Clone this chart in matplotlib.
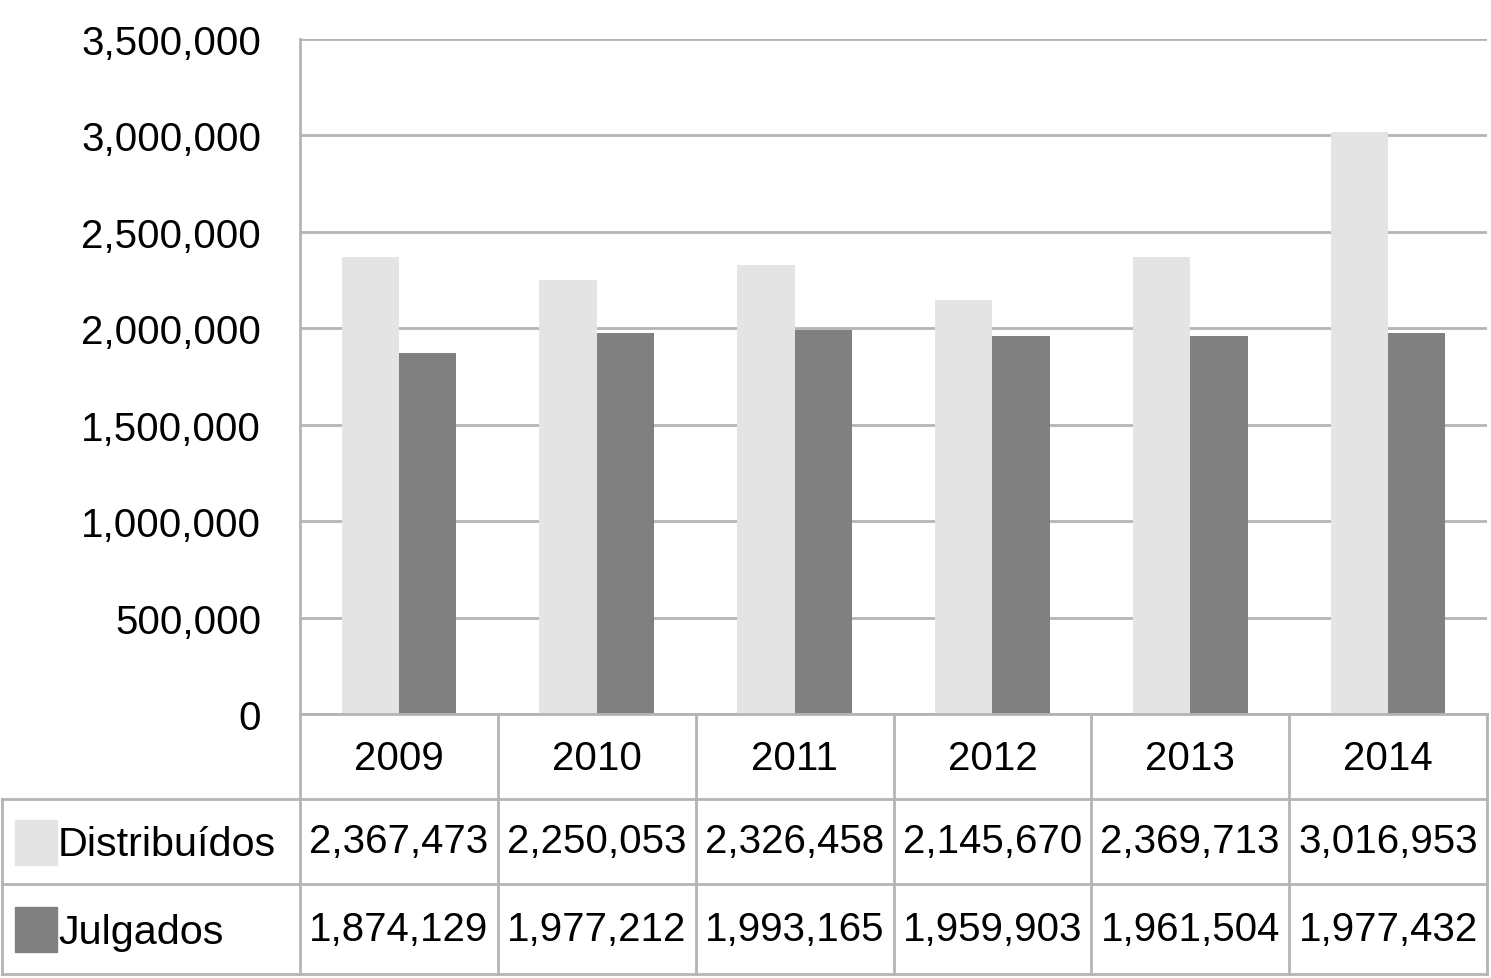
import matplotlib
matplotlib.use("Agg")
import matplotlib.pyplot as plt
import numpy as np

years = ["2009", "2010", "2011", "2012", "2013", "2014"]
distribuidos = [2367473, 2250053, 2326458, 2145670, 2369713, 3016953]
julgados = [1874129, 1977212, 1993165, 1959903, 1961504, 1977432]
series_names = ["Distribuídos", "Julgados"]
colors = ["#e4e4e4", "#808080"]
yticks = [0, 500000, 1000000, 1500000, 2000000, 2500000, 3000000, 3500000]

plt.rcParams["font.family"] = ["Liberation Sans", "DejaVu Sans"]
FS = 29
GRID = "#b4b4b4"

W, H = 1491, 979
fig = plt.figure(figsize=(W / 100, H / 100), dpi=100)

# plot area in pixels
left, right, top, bottom = 300, 1487, 40, 715
ax = fig.add_axes([left / W, (H - bottom) / H, (right - left) / W, (bottom - top) / H])

x = np.arange(len(years))
width = 0.29
ax.bar(x - width / 2, distribuidos, width, color=colors[0], zorder=3)
ax.bar(x + width / 2, julgados, width, color=colors[1], zorder=3)

ax.set_xlim(-0.5, len(years) - 0.5)
ax.set_ylim(0, 3500000)
ax.set_yticks(yticks, labels=[f"{v:,}" for v in yticks])
ax.set_xticks([])
ax.tick_params(axis="y", length=0, pad=28, labelsize=FS)
for lbl in ax.get_yticklabels():
    lbl.set_va("center_baseline")
ax.yaxis.grid(True, color=GRID, linewidth=2, zorder=0)
for side in ["top", "right", "bottom"]:
    ax.spines[side].set_visible(False)
ax.spines["left"].set_color(GRID)
ax.spines["left"].set_linewidth(2)

# data table underneath, drawn in pixel coordinates
tab = fig.add_axes([0, 0, 1, 1], zorder=5)
tab.set_xlim(0, W)
tab.set_ylim(H, 0)
tab.axis("off")
tab.patch.set_alpha(0)

col_w = (right - left) / len(years)
edges = [left + i * col_w for i in range(len(years) + 1)]
rows = [bottom, 800, 885, 975]
lkw = dict(color=GRID, linewidth=2)

tab.plot([left, right], [bottom, bottom], **lkw)
for yy in rows[1:]:
    tab.plot([2, right], [yy, yy], **lkw)
for xx in edges:
    tab.plot([xx, xx], [bottom, rows[-1]], **lkw)
tab.plot([2, 2], [rows[1], rows[-1]], **lkw)

for i, yr in enumerate(years):
    cx = (edges[i] + edges[i + 1]) / 2
    tab.text(cx, (rows[0] + rows[1]) / 2 + 2, yr, ha="center", va="center", fontsize=FS)
    tab.text(cx, (rows[1] + rows[2]) / 2, f"{distribuidos[i]:,}", ha="center", va="center", fontsize=FS)
    tab.text(cx, (rows[2] + rows[3]) / 2, f"{julgados[i]:,}", ha="center", va="center", fontsize=FS)

for j, (name, c) in enumerate(zip(series_names, colors)):
    cy = (rows[j + 1] + rows[j + 2]) / 2
    tab.add_patch(plt.Rectangle((15, cy - 22), 42, 45, color=c))
    tab.text(58, cy + 3, name, ha="left", va="center", fontsize=FS + 0.8)

fig.savefig("out.png", dpi=100)
